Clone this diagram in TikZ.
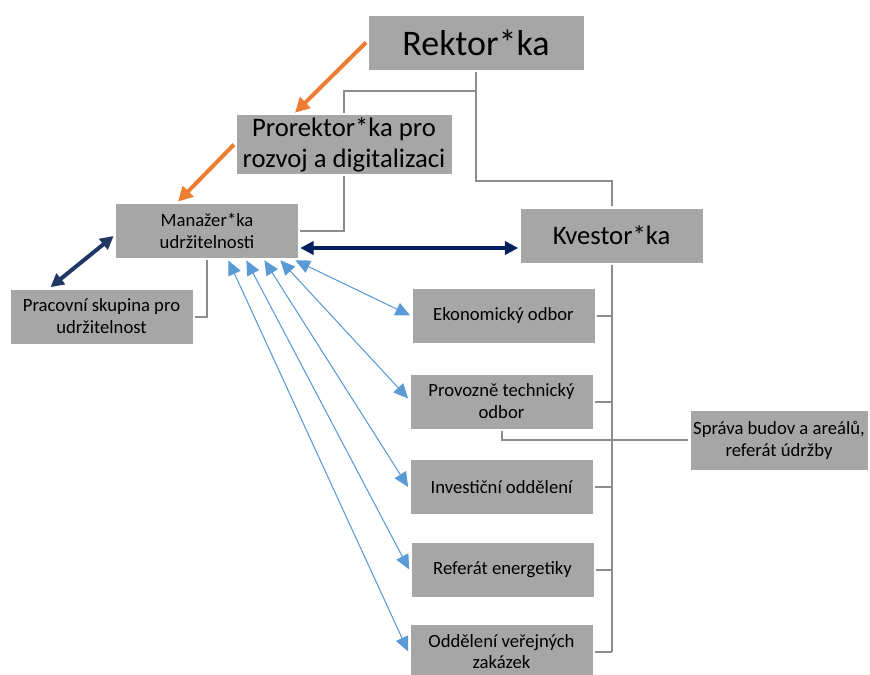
\documentclass[tikz,border=0pt]{standalone}
\usepackage{fontspec}
\setmainfont{Carlito}
\usepackage{tikz}
\usetikzlibrary{arrows.meta}
\usetikzlibrary{calc}

\definecolor{boxgray}{HTML}{A6A6A6}
\definecolor{linegray}{HTML}{8C8C8C}
\definecolor{orgorange}{HTML}{ED7D31}
\definecolor{darkblue}{HTML}{203864}
\definecolor{navy}{HTML}{002060}
\definecolor{lightblue}{HTML}{5B9BD5}

\begin{document}
\begin{tikzpicture}[x=0.75pt,y=-0.75pt]
 \useasboundingbox (0,0) rectangle (870,674);
 \begin{scope}[every node/.style={fill=boxgray, draw=white, line width=0.4pt,
   minimum width=137pt, minimum height=41pt, align=center, inner sep=2pt,
   outer sep=1.5pt, font=\fontsize{14}{16.5}\selectfont}]
 \node [minimum width=162pt, font=\fontsize{27}{30}\selectfont] (rek) at (476,42.5) {Rektor*ka};
 \node [minimum width=162pt, font=\fontsize{20}{23}\selectfont] (pro) at (344,144.5) {Prorektor*ka pro\\rozvoj a digitalizaci};
 \node (man) at (207,231) {Manažer*ka\\udržitelnosti};
 \node (prac) at (101.5,316.5) {Pracovní skupina pro\\udržitelnost};
 \node [font=\fontsize{20}{23}\selectfont] (kve) at (611.5,235.5) {Kvestor*ka};
 \node (eko) at (503.5,315.5) {Ekonomický odbor};
 \node (prov) at (501.5,401.5) {Provozně technický\\odbor};
 \node (inv) at (501.5,487) {Investiční oddělení};
 \node (ener) at (502.5,569.5) {Referát energetiky};
 \node [font=\fontsize{14}{15.5}\selectfont] (zak) at (501.5,651.5) {Oddělení veřejných\\zakázek};
 \node [minimum width=133.5pt, minimum height=45pt] (sprava) at (779,440) {Správa budov a areálů,\\referát údržby};
 \end{scope}
 % organisational lines
 \begin{scope}[linegray, line width=1.5pt]
 \draw (rek.south) -- ($(rek.south)+(0,19)$) -| (pro.north);
 \draw ($(rek.south)+(0,19)$) |- ($(kve.north)+(0,-25)$) -- (kve.north);
 \draw (pro.south) |- (man.east);
 \draw (man.south) |- (prac.east);
 \draw (kve.south) -- (kve.south |- zak.east);
 \foreach \n in {eko,prov,inv,ener,zak}
  \draw (\n.east) -- (kve.south |- \n.east);
 \draw (prov.south) |- (sprava.west);
 \end{scope}
 % cooperation arrows
 \draw [orgorange, line width=3pt, -{Triangle[length=11pt,width=11pt]}] (rek.west) -- ($(pro.north)+(-49,0)$);
 \draw [orgorange, line width=3pt, -{Triangle[length=11pt,width=11pt]}] (pro.west) -- ($(man.north)+(-29,0)$);
 \draw [darkblue, line width=3pt, {Triangle[length=10pt,width=10pt]}-{Triangle[length=10pt,width=10pt]}] ($(prac.north)+(-51,0)$) -- ($(man.west)+(0,5)$);
 \draw [navy, line width=2.3pt, {Triangle[length=10pt,width=10pt]}-{Triangle[length=10pt,width=10pt]}] ($(man.east)+(0,17)$) -- ($(kve.west)+(0,12.5)$);
 \begin{scope}[lightblue, line width=0.8pt, {Triangle[length=11pt,width=10pt]}-{Triangle[length=11pt,width=10pt]}]
 \draw ($(man.south east)+(-5,0)$) -- (eko.west);
 \draw ($(man.south east)+(-20,0)$) -- ($(prov.west)+(0,-3)$);
 \draw ($(man.south east)+(-36,0)$) -- (inv.west);
 \draw ($(man.south east)+(-54,0)$) -- (ener.west);
 \draw ($(man.south east)+(-72,0)$) -- (zak.west);
 \end{scope}
\end{tikzpicture}
\end{document}
